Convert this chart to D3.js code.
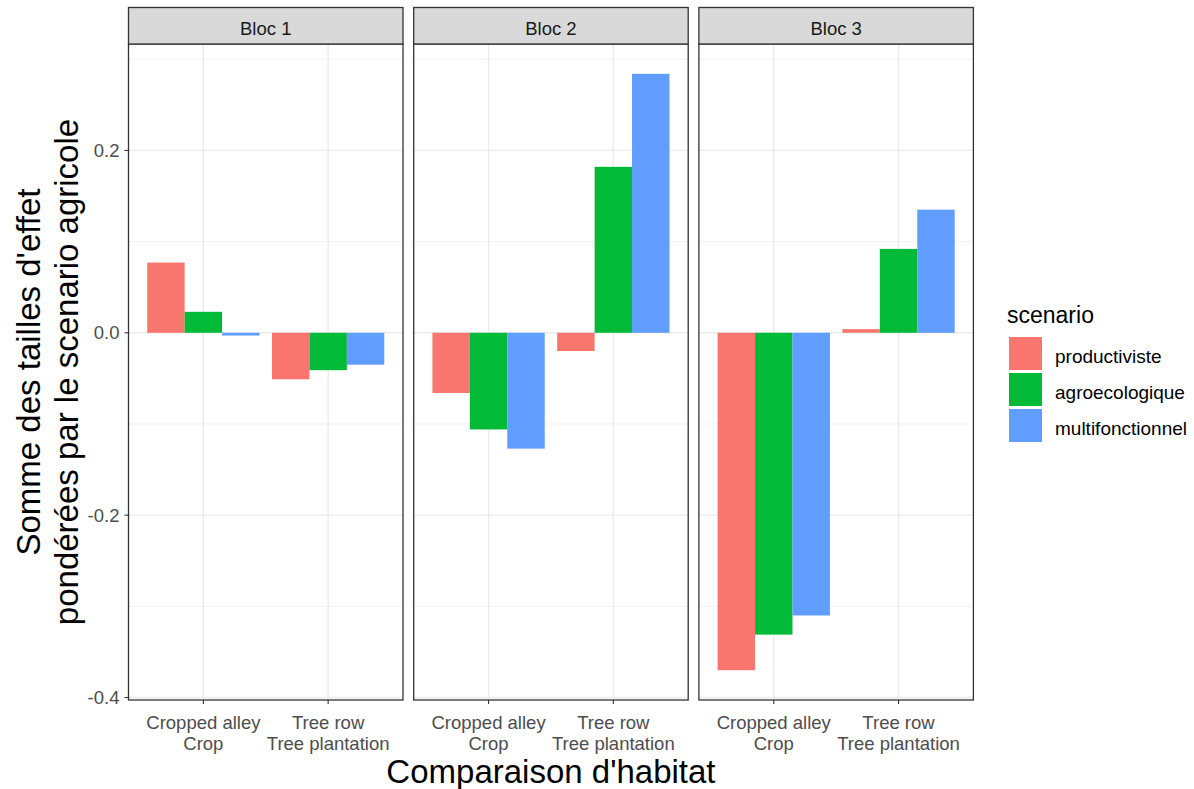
<!DOCTYPE html>
<html>
<head>
<meta charset="utf-8">
<script src="https://cdn.jsdelivr.net/npm/d3@7"></script>
<style>
  html, body { margin: 0; padding: 0; background: #fff; }
  svg { display: block; font-family: "Liberation Sans", Arial, sans-serif; }
</style>
</head>
<body>
<svg id="chart" width="1194" height="789"></svg>
<script>
const blocs = ["Bloc 1", "Bloc 2", "Bloc 3"];
const habitats = ["Cropped alley\nCrop", "Tree row\nTree plantation"];
const scenarios = ["productiviste", "agroecologique", "multifonctionnel"];
const colors = ["#F8766D", "#00BA38", "#619CFF"];
// values[bloc][habitat] = [productiviste, agroecologique, multifonctionnel]
const bloc1 = [[0.077, 0.023, -0.003], [-0.051, -0.041, -0.035]];
const bloc2 = [[-0.066, -0.106, -0.127], [-0.020, 0.182, 0.284]];
const bloc3 = [[-0.370, -0.331, -0.310], [0.004, 0.092, 0.135]];
const yTicks = [-0.4, -0.2, 0.0, 0.2];
const yMinor = [-0.3, -0.1, 0.1, 0.3];
const yTitle = ["Somme des tailles d'effet", "pondérées par le scenario agricole"];
const xTitle = "Comparaison d'habitat";
const legendTitle = "scenario";

const blocValues = [bloc1, bloc2, bloc3];
const rows = [];
blocValues.forEach((b, bi) => b.forEach((h, hi) => h.forEach((v, si) => {
  rows.push({bloc: blocs[bi], habitat: habitats[hi], scenario: scenarios[si], value: v});
})));

const svg = d3.select("#chart");
const panelTop = 44, panelBottom = 700, stripTop = 7.5;
const panelLeft = 128.5, panelW = 274.5, panelStep = 285.2;
const smallFont = 18.5;

const allVals = rows.map(d => d.value);
const lo = d3.min(allVals), hi = d3.max(allVals), ex = (hi - lo) * 0.05;
const y = d3.scaleLinear().domain([lo - ex, hi + ex]).range([panelBottom, panelTop]);

const fx = d3.scaleBand().domain(blocs).range([panelLeft, panelLeft + panelStep * 3]).paddingInner(0).paddingOuter(0);
// discrete scale with 0.6 expansion: continuous positions 0.4..2.6
const xc = d3.scaleLinear().domain([0.4, 2.6]).range([0, panelW]);
const dodge = d3.scaleBand().domain(scenarios).range([-0.45, 0.45]);
const color = d3.scaleOrdinal().domain(scenarios).range(colors);

blocs.forEach((bloc, bi) => {
  const px = fx(bloc);
  const g = svg.append("g").attr("transform", `translate(${px},0)`);
  g.append("rect").attr("x", 0).attr("y", panelTop).attr("width", panelW).attr("height", panelBottom - panelTop).attr("fill", "#fff");
  g.selectAll(".minor").data(yMinor).join("line")
    .attr("x1", 0).attr("x2", panelW).attr("y1", d => y(d)).attr("y2", d => y(d))
    .attr("stroke", "#F2F2F2").attr("stroke-width", 1);
  g.selectAll(".major").data(yTicks).join("line")
    .attr("x1", 0).attr("x2", panelW).attr("y1", d => y(d)).attr("y2", d => y(d))
    .attr("stroke", "#EBEBEB").attr("stroke-width", 1.4);
  g.selectAll(".vgrid").data(habitats).join("line")
    .attr("x1", (d, i) => xc(i + 1)).attr("x2", (d, i) => xc(i + 1))
    .attr("y1", panelTop).attr("y2", panelBottom)
    .attr("stroke", "#EBEBEB").attr("stroke-width", 1.4);
  const data = rows.filter(r => r.bloc === bloc);
  g.selectAll(".bar").data(data).join("rect")
    .attr("x", d => xc(habitats.indexOf(d.habitat) + 1 + dodge(d.scenario)))
    .attr("width", d => xc(1 + dodge.bandwidth()) - xc(1))
    .attr("y", d => y(Math.max(0, d.value)))
    .attr("height", d => Math.abs(y(d.value) - y(0)))
    .attr("fill", d => color(d.scenario));
  g.append("rect").attr("x", 0).attr("y", panelTop).attr("width", panelW).attr("height", panelBottom - panelTop)
    .attr("fill", "none").attr("stroke", "#333333").attr("stroke-width", 1.3);
  g.append("rect").attr("x", 0).attr("y", stripTop).attr("width", panelW).attr("height", panelTop - stripTop)
    .attr("fill", "#D9D9D9").attr("stroke", "#333333").attr("stroke-width", 1.3);
  g.append("text").attr("x", panelW / 2).attr("y", 35)
    .attr("text-anchor", "middle").attr("font-size", smallFont).attr("fill", "#1A1A1A").text(bloc);
  habitats.forEach((h, i) => {
    const x0 = xc(i + 1);
    g.append("line").attr("x1", x0).attr("x2", x0).attr("y1", panelBottom).attr("y2", panelBottom + 4)
      .attr("stroke", "#333333").attr("stroke-width", 1.1);
    const t = g.append("text").attr("text-anchor", "middle").attr("font-size", smallFont).attr("fill", "#4D4D4D");
    h.split("\n").forEach((line, li) => {
      t.append("tspan").attr("x", x0).attr("y", 729 + li * 20.5).text(line);
    });
  });
});

const ya = svg.append("g");
yTicks.forEach(v => {
  ya.append("line").attr("x1", panelLeft - 4).attr("x2", panelLeft).attr("y1", y(v)).attr("y2", y(v))
    .attr("stroke", "#333333").attr("stroke-width", 1.1);
  ya.append("text").attr("x", panelLeft - 9).attr("y", y(v) + 6.5).attr("text-anchor", "end")
    .attr("font-size", smallFont).attr("fill", "#4D4D4D").text(d3.format(".1f")(v).replace("−", "-"));
});

const yt = svg.append("text").attr("transform", `translate(0, ${(panelTop + panelBottom) / 2}) rotate(-90)`)
  .attr("text-anchor", "middle").attr("font-size", 33).attr("fill", "#000");
yTitle.forEach((line, i) => {
  yt.append("tspan").attr("x", 0).attr("y", 40 + i * 38).text(line);
});

svg.append("text").attr("x", panelLeft + (panelStep * 2 + panelW) / 2).attr("y", 783)
  .attr("text-anchor", "middle").attr("font-size", 33).attr("fill", "#000").text(xTitle);

const lg = svg.append("g");
lg.append("text").attr("x", 1007).attr("y", 323).attr("font-size", 23).attr("fill", "#000").text(legendTitle);
scenarios.forEach((s, i) => {
  const ky = 337 + i * 36;
  lg.append("rect").attr("x", 1009).attr("y", ky).attr("width", 33).attr("height", 33).attr("fill", color(s));
  lg.append("text").attr("x", 1055).attr("y", ky + 26).attr("font-size", 19).attr("fill", "#000").text(s);
});
</script>
</body>
</html>
